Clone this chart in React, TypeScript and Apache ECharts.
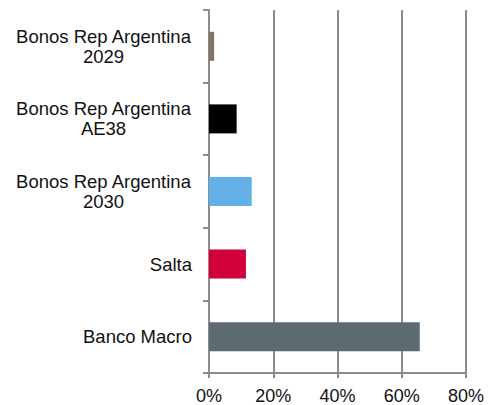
import React, { useEffect, useRef } from "react";
import * as echarts from "echarts";

const categories = [
  "Banco Macro",
  "Salta",
  "Bonos Rep Argentina\n2030",
  "Bonos Rep Argentina\nAE38",
  "Bonos Rep Argentina\n2029",
];
const values = [65.6, 11.5, 13.3, 8.6, 1.6];
const colors = ["#5E6A71", "#D20038", "#62B0E5", "#000000", "#857464"];
const xTicks = [0, 20, 40, 60, 80];

const FONT = "'Liberation Sans', Arial, sans-serif";

export default function App() {
  const ref = useRef<HTMLDivElement>(null);
  useEffect(() => {
    const chart = echarts.init(ref.current!, undefined, { renderer: "svg" });
    chart.setOption({
      animation: false,
      grid: { left: 209, right: 25, top: 10, bottom: 30, containLabel: false },
      xAxis: {
        type: "value",
        min: xTicks[0],
        max: xTicks[xTicks.length - 1],
        interval: 20,
        axisLine: { show: true, lineStyle: { color: "#8C8C8C", width: 2 } },
        axisTick: { show: true, length: 5, lineStyle: { color: "#8C8C8C", width: 2 } },
        splitLine: { show: true, lineStyle: { color: "#8C8C8C", width: 2 } },
        axisLabel: {
          formatter: (v: number) => `${v}%`,
          color: "#111",
          fontFamily: FONT,
          fontSize: 18,
          margin: 14,
        },
      },
      yAxis: {
        type: "category",
        data: categories,
        axisLine: { show: true, lineStyle: { color: "#8C8C8C", width: 2 } },
        axisTick: { show: true, length: 6, lineStyle: { color: "#8C8C8C", width: 2 } },
        axisLabel: {
          color: "#111",
          fontFamily: FONT,
          fontSize: 18.5,
          lineHeight: 20,
          align: "right",
          margin: 17,
          formatter: (v: string) =>
            v.includes("\n")
              ? v
                  .split("\n")
                  .map((s) => `{m|${s}}`)
                  .join("\n")
              : v,
          rich: {
            m: {
              width: 177,
              align: "center",
              color: "#111",
              fontFamily: FONT,
              fontSize: 18.5,
              lineHeight: 20,
            },
          },
        },
      },
      series: [
        {
          type: "bar",
          barWidth: 29,
          data: values.map((v, i) => ({ value: v, itemStyle: { color: colors[i] } })),
        },
      ],
    });
    return () => chart.dispose();
  }, []);
  return <div ref={ref} style={{ width: 491, height: 405, position: "absolute", left: 0, top: 0 }} />;
}
